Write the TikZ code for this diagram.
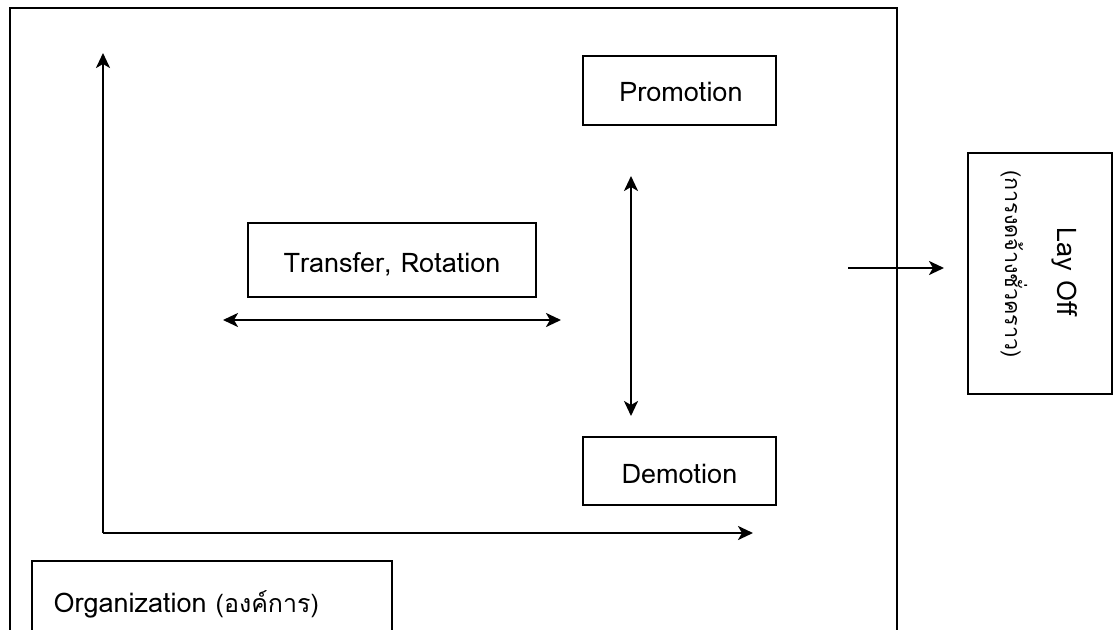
\documentclass[tikz,border=0pt]{standalone}
\usepackage{fontspec}
\setmainfont[Script=Thai]{Loma}
\usetikzlibrary{arrows.meta}
\newcommand\thsz{\fontsize{21.5}{26}\selectfont}
\newcommand\thorg{\fontsize{25}{30}\selectfont}
\tikzset{
  box/.style={draw, line width=2pt, inner sep=0pt},
  conn/.style={line width=2.4pt, -{Stealth[length=15pt,width=14pt,inset=4pt]}},
  dconn/.style={line width=2.4pt, {Stealth[length=15pt,width=14pt,inset=4pt]}-{Stealth[length=15pt,width=14pt,inset=4pt]}},
  lbl/.style={font=\fontsize{27}{33}\selectfont}
}
\begin{document}
\begin{tikzpicture}[x=1pt,y=-1pt]
\useasboundingbox (0,0) rectangle (1116,629);
% outer organization frame (open at bottom)
\draw[line width=2pt] (10,640) -- (10,8) -- (897,8) -- (897,640);
% boxes
\draw[box] (583,56) rectangle (776,125);
\node[lbl] (promo) at (681,92) {Promotion};
\draw[box] (248,223) rectangle (536,297);
\node[lbl] (trans) at (392,264) {Transfer, Rotation};
\draw[box] (583,437) rectangle (776,505);
\node[lbl] (demo) at (679.5,474) {Demotion};
\draw[box] (968,153) rectangle (1112,394);
\node[lbl, rotate=-90] (lay) at (1065,272) {Lay Off};
\node[lbl, rotate=-90] (layth) at (1014,264) {\thsz(การงดจ้างชั่วคราว)};
\draw[box] (32,561) rectangle (392,640);
\node[lbl, anchor=west] (org) at (50,604) {Organization {\thorg(องค์การ)}};
% axes
\coordinate (origin) at (103,533);
\coordinate (ytop) at (103,53);
\coordinate (xend) at (753,533);
\draw[conn] (origin) -- (ytop);
\draw[conn] (origin) -- (xend);
% double arrows
\coordinate (hl) at (223,320);
\coordinate (hr) at (561,320);
\draw[dconn] (hl) -- (hr);
\coordinate (vt) at (631,176);
\coordinate (vb) at (631,416);
\draw[dconn] (vt) -- (vb);
% lay off arrow
\coordinate (la) at (848,268);
\coordinate (lb) at (944,268);
\draw[conn] (la) -- (lb);
\end{tikzpicture}
\end{document}
